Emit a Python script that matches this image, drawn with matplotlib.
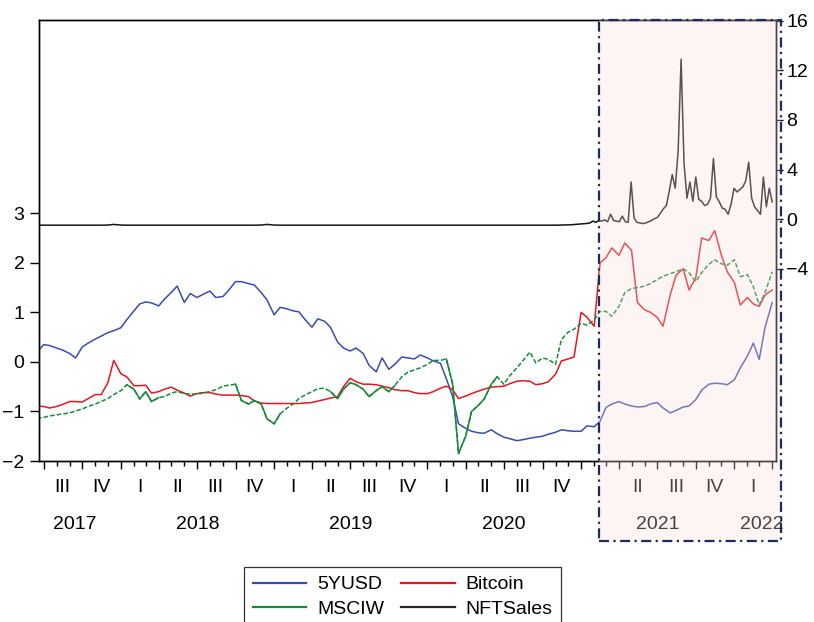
import pandas as pd
import matplotlib
matplotlib.use("Agg")
import matplotlib.pyplot as plt
import matplotlib.dates as mdates
from matplotlib.patches import Rectangle
from matplotlib.lines import Line2D
from matplotlib.ticker import NullFormatter

plt.rcParams['font.family'] = ['Liberation Sans', 'DejaVu Sans']

# ---------------------------------------------------------------- data
# semi-monthly observations (1st and 15th of each month)
dates = pd.date_range('2017-06-15', '2022-04-01', freq='SMS')

usd5y = [0.19, 0.35, 0.33, 0.28, 0.24, 0.17, 0.08, 0.30, 0.38, 0.46,
         0.52, 0.59, 0.63, 0.69, 0.85, 1.03, 1.17, 1.21, 1.19, 1.13,
         1.27, 1.40, 1.53, 1.20, 1.38, 1.30, 1.36, 1.43, 1.30, 1.32,
         1.45, 1.62, 1.62, 1.58, 1.55, 1.40, 1.25, 0.95, 1.10, 1.07,
         1.03, 1.01, 0.86, 0.70, 0.87, 0.82, 0.70, 0.40, 0.28, 0.22,
         0.28, 0.17, -0.07, -0.20, 0.08, -0.15, -0.05, 0.10, 0.08, 0.06,
         0.14, 0.08, 0.02, -0.03, -0.34, -0.70, -1.25, -1.34, -1.40, -1.43,
         -1.44, -1.37, -1.45, -1.52, -1.55, -1.59, -1.57, -1.54, -1.52, -1.50,
         -1.46, -1.42, -1.37, -1.39, -1.40, -1.40, -1.29, -1.31, -1.20, -0.92,
         -0.85, -0.80, -0.85, -0.89, -0.91, -0.90, -0.85, -0.82, -0.93, -1.03,
         -0.98, -0.91, -0.89, -0.76, -0.57, -0.45, -0.43, -0.44, -0.46, -0.36,
         -0.12, 0.12, 0.38, 0.05, 0.70, 1.20]

bitcoin = [-0.89, -0.90, -0.93, -0.90, -0.86, -0.80, -0.80, -0.81, -0.74, -0.66,
           -0.66, -0.42, 0.03, -0.24, -0.30, -0.48, -0.48, -0.47, -0.63, -0.60,
           -0.55, -0.51, -0.57, -0.63, -0.69, -0.64, -0.62, -0.62, -0.65, -0.67,
           -0.67, -0.67, -0.68, -0.70, -0.79, -0.83, -0.84, -0.84, -0.84, -0.84,
           -0.84, -0.84, -0.83, -0.82, -0.79, -0.76, -0.73, -0.70, -0.50, -0.33,
           -0.40, -0.45, -0.45, -0.46, -0.49, -0.52, -0.56, -0.58, -0.58, -0.62,
           -0.64, -0.64, -0.60, -0.53, -0.49, -0.56, -0.74, -0.69, -0.64, -0.59,
           -0.55, -0.51, -0.50, -0.49, -0.44, -0.39, -0.38, -0.39, -0.46, -0.44,
           -0.40, -0.25, 0.02, 0.06, 0.10, 1.00, 0.90, 0.72, 2.00, 2.10,
           2.30, 2.15, 2.40, 2.25, 1.20, 1.05, 1.00, 0.90, 0.72, 1.35,
           1.75, 1.88, 1.45, 1.70, 2.50, 2.45, 2.65, 2.15, 1.82, 1.60,
           1.15, 1.30, 1.17, 1.12, 1.35, 1.45]

msciw = [-1.14, -1.12, -1.09, -1.07, -1.05, -1.03, -0.99, -0.95, -0.90, -0.85,
         -0.80, -0.74, -0.66, -0.58, -0.46, -0.55, -0.75, -0.60, -0.80, -0.72,
         -0.70, -0.63, -0.60, -0.64, -0.65, -0.65, -0.63, -0.60, -0.56, -0.49,
         -0.47, -0.45, -0.78, -0.85, -0.78, -0.85, -1.15, -1.25, -1.05, -0.93,
         -0.85, -0.74, -0.67, -0.60, -0.54, -0.53, -0.60, -0.74, -0.55, -0.42,
         -0.46, -0.55, -0.70, -0.58, -0.50, -0.60, -0.48, -0.30, -0.21, -0.16,
         -0.12, -0.05, 0.03, 0.03, 0.06, -0.45, -1.85, -1.50, -1.00, -0.88,
         -0.75, -0.45, -0.30, -0.45, -0.28, -0.12, 0.02, 0.20, -0.02, 0.08,
         0.05, -0.05, 0.45, 0.60, 0.66, 0.78, 0.74, 0.85, 1.02, 1.02,
         0.92, 1.12, 1.40, 1.48, 1.50, 1.53, 1.58, 1.66, 1.73, 1.78,
         1.82, 1.88, 1.80, 1.62, 1.80, 1.97, 2.06, 1.98, 1.95, 2.06,
         1.72, 1.76, 1.52, 1.15, 1.40, 1.82]

# NFT sales: semi-monthly up to Nov 2020, weekly afterwards
nft_early = [-0.48, -0.48, -0.48, -0.48, -0.48, -0.48, -0.48, -0.48, -0.48, -0.48,
             -0.48, -0.47, -0.42, -0.47, -0.48, -0.48, -0.48, -0.48, -0.48, -0.48,
             -0.48, -0.48, -0.48, -0.48, -0.48, -0.48, -0.48, -0.48, -0.48, -0.48,
             -0.48, -0.48, -0.48, -0.48, -0.48, -0.47, -0.42, -0.47, -0.48, -0.48,
             -0.48, -0.48, -0.48, -0.48, -0.48, -0.48, -0.48, -0.48, -0.48, -0.48,
             -0.48, -0.48, -0.48, -0.48, -0.48, -0.48, -0.48, -0.48, -0.48, -0.48,
             -0.48, -0.48, -0.48, -0.48, -0.48, -0.48, -0.48, -0.48, -0.48, -0.48,
             -0.48, -0.48, -0.48, -0.48, -0.48, -0.48, -0.48, -0.48, -0.48, -0.48,
             -0.48, -0.48]
nft_weekly_dates = pd.date_range('2020-11-06', '2022-04-01', freq='W-FRI')
nft_weekly = [-0.48, -0.47, -0.46, -0.46, -0.45, -0.44, -0.42, -0.40, -0.38, -0.36,
              -0.34, -0.30, -0.15, -0.25, -0.10, -0.15, -0.05, -0.20, 0.40, -0.10,
              -0.15, -0.20, 0.25, -0.20, -0.25, 3.00, 0.10, -0.25, -0.30, -0.35,
              -0.30, -0.20, -0.10, 0.05, 0.15, 0.50, 0.85, 1.10, 2.30, 3.60,
              2.50, 5.50, 12.90, 4.50, 1.70, 3.00, 1.45, 3.40, 1.60, 1.45,
              1.10, 1.20, 1.70, 4.90, 1.80, 1.40, 0.90, 0.80, 0.40, 1.20,
              2.50, 2.20, 2.40, 2.60, 3.10, 4.60, 1.70, 1.00, 0.70, 0.40,
              3.40, 1.00, 2.50, 1.40]

nft_dates = list(dates[:len(nft_early)]) + list(nft_weekly_dates)
nft_values = nft_early + nft_weekly

quarter_starts = pd.date_range('2017-07-01', '2022-01-01', freq='QS')
quarter_labels = ['III', 'IV', 'I', 'II', 'III', 'IV', 'I', 'II', 'III', 'IV',
                  'I', 'II', 'III', 'IV', '', 'II', 'III', 'IV', 'I']
year_labels = ['2017', '2018', '2019', '2020', '2021', '2022']
year_anchors = ['2017-09-12', '2018-07-02', '2019-07-02', '2020-07-01',
                '2021-07-02', '2022-03-07']

highlight_start = pd.Timestamp('2021-02-12')

# ---------------------------------------------------------------- styling
C_USD = '#3A4DAE'
C_BTC = '#E8161E'
C_MSCI = '#17893A'
C_NFT = '#121712'
FS = 14

W, H = 814, 622
fig = plt.figure(figsize=(W / 100, H / 100), dpi=100)
L, R, T, B = 39, 776, 20, 461
ax = fig.add_axes([L / W, 1 - B / H, (R - L) / W, (B - T) / H])
ax2 = ax.twinx()

ax.plot(dates, usd5y, color=C_USD, lw=1.1, zorder=3)
ax.plot(dates, bitcoin, color=C_BTC, lw=1.1, zorder=3)
# MSCIW is drawn broken where observations are sparse, solid elsewhere
ax.plot(dates, msciw, color=C_MSCI, lw=1.1, ls=(0, (3, 1.4)), zorder=4)
for a, b in [(14, 19), (31, 38), (46, 56), (64, 72)]:
    ax.plot(dates[a:b + 1], msciw[a:b + 1], color=C_MSCI, lw=1.1, zorder=4)
ax2.plot(nft_dates, nft_values, color=C_NFT, lw=1.1, zorder=3)

ax.set_xlim(pd.Timestamp('2017-06-20'), pd.Timestamp('2022-04-10'))
ax.set_ylim(-2.0, 6.9)
ax2.set_ylim(-19.49, 16.06)

ax.set_yticks([-2, -1, 0, 1, 2, 3])
ax.tick_params(axis='y', direction='out', length=6.5, width=1, pad=4,
               labelsize=FS, colors='black')
ax2.set_yticks([-4, 0, 4, 8, 12, 16])
ax2.tick_params(axis='y', direction='out', length=5, width=1, pad=2.5,
                labelsize=FS, colors='black')

ax.xaxis.set_major_locator(mdates.MonthLocator(bymonth=[1, 4, 7, 10]))
ax.xaxis.set_minor_locator(mdates.MonthLocator())
ax.xaxis.set_major_formatter(NullFormatter())
ax.tick_params(axis='x', which='major', direction='out', length=6, width=1)
ax.tick_params(axis='x', which='minor', direction='out', length=3.5, width=1)

for axis in (ax, ax2):
    for sp in axis.spines.values():
        sp.set_linewidth(1.0)
        sp.set_color('black')

xt = ax.get_xaxis_transform()
for qs, lab in zip(quarter_starts, quarter_labels):
    if lab:
        ax.text(qs + pd.Timedelta(days=45), -0.059, lab, transform=xt,
                ha='center', va='center', fontsize=FS)
for ys, lab in zip(year_anchors, year_labels):
    ax.text(pd.Timestamp(ys), -0.143, lab, transform=xt,
            ha='center', va='center', fontsize=FS)

# highlighted period: tinted overlay plus dash-dot border
x0 = ax.transData.transform((mdates.date2num(highlight_start), 0))[0]
x1, y_top, y_bot = 781, H - T, H - 541
shade = Rectangle((x0 / W, y_bot / H), (x1 - x0) / W, (y_top - y_bot) / H,
                  transform=fig.transFigure, facecolor=(249 / 255, 222 / 255, 216 / 255),
                  alpha=0.3, edgecolor='none', zorder=5)
fig.add_artist(shade)
border = Rectangle((x0 / W, y_bot / H), (x1 - x0) / W, (y_top - y_bot) / H,
                   transform=fig.transFigure, fill=False, edgecolor='#1C2A5E',
                   lw=1.6, ls=(0, (4.5, 2, 1, 2)), zorder=6)
fig.add_artist(border)

handles = [Line2D([], [], color=C_USD, lw=1.6),
           Line2D([], [], color=C_MSCI, lw=1.6),
           Line2D([], [], color=C_BTC, lw=1.6),
           Line2D([], [], color='#262826', lw=1.6)]
labels = ['5YUSD', 'MSCIW', 'Bitcoin', 'NFTSales']
leg = fig.legend(handles, labels, loc='upper left',
                 bbox_to_anchor=(244 / W, 1 - 567 / H), ncol=2, fontsize=FS,
                 frameon=True, fancybox=False, edgecolor='black',
                 handlelength=2.75, handletextpad=0.55, columnspacing=0.9,
                 borderpad=0.45, labelspacing=0.35, borderaxespad=0)
leg.get_frame().set_linewidth(0.9)

fig.savefig('out.png', dpi=100)
